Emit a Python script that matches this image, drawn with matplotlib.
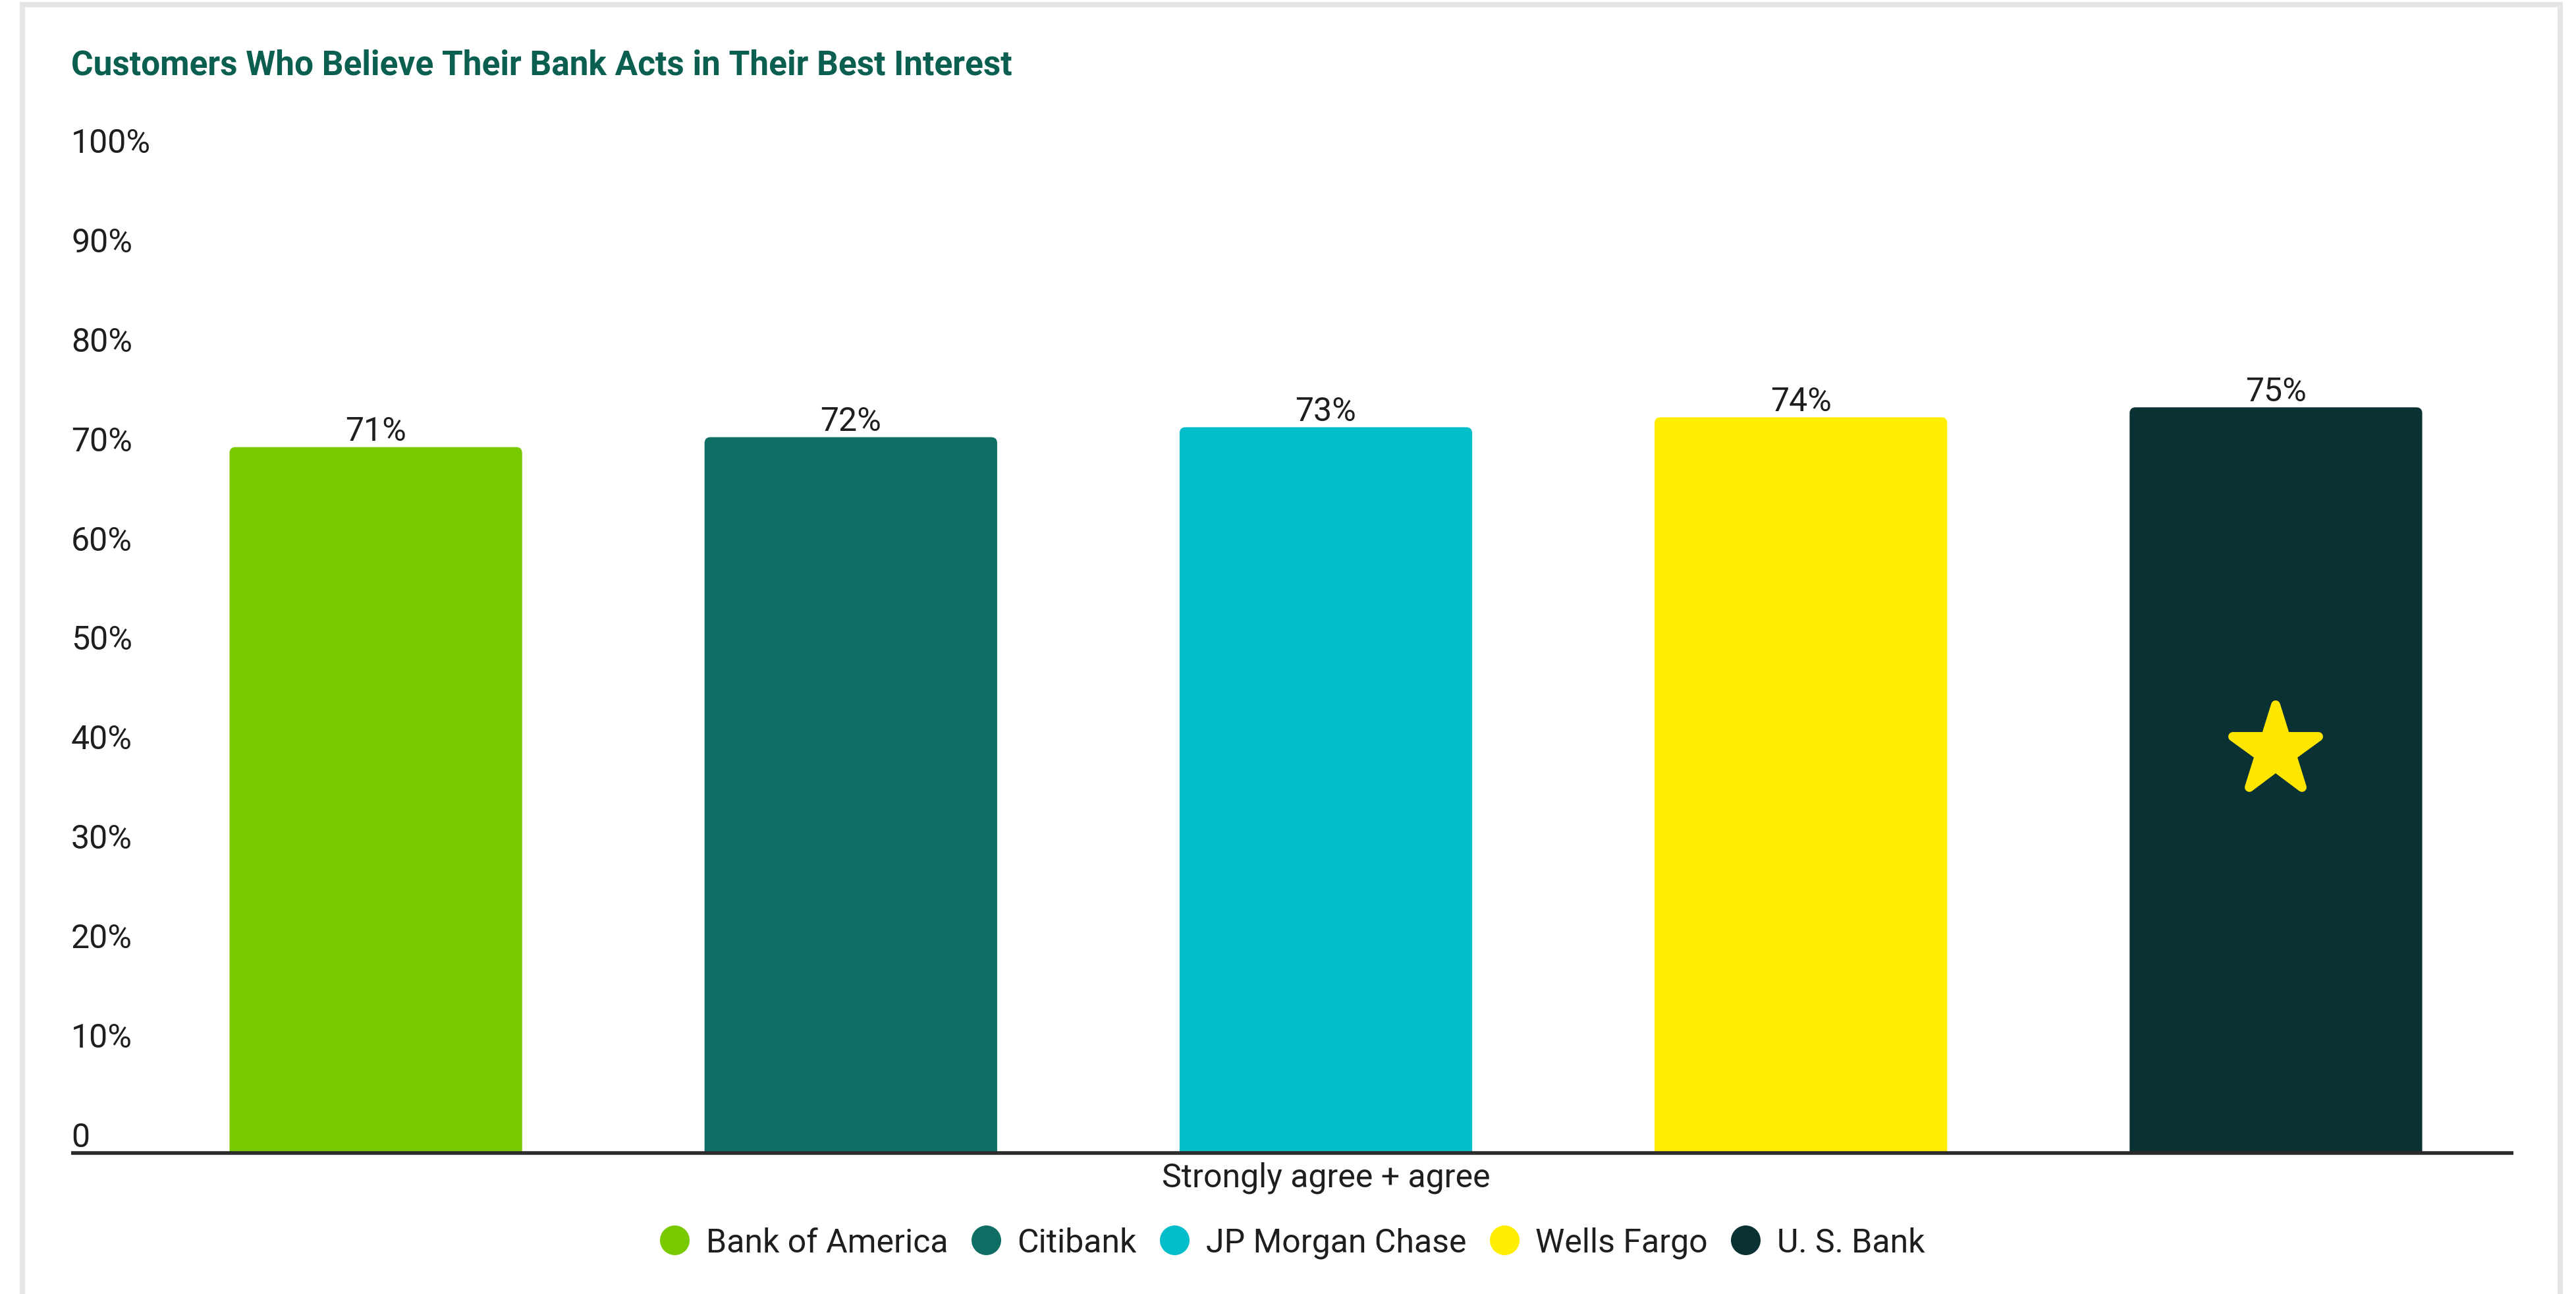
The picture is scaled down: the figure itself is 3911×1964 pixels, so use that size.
import matplotlib
matplotlib.use("Agg")
import matplotlib.pyplot as plt
from matplotlib.lines import Line2D
from matplotlib.markers import MarkerStyle
from matplotlib.patches import FancyBboxPatch, Rectangle

# data
banks = ["Bank of America", "Citibank", "JP Morgan Chase", "Wells Fargo", "U. S. Bank"]
values = [71, 72, 73, 74, 75]
colors = ["#79c900", "#0e6e64", "#04bdcb", "#ffee00", "#0a3235"]
group_label = "Strongly agree + agree"
y_ticks = [0, 10, 20, 30, 40, 50, 60, 70, 80, 90, 100]
y_tick_labels = ["0"] + [f"{t}%" for t in y_ticks[1:]]
star_bank = 4
star_value = 40.5

plt.rcParams["font.family"] = ["Roboto", "DejaVu Sans"]
text_color = "#1e1e1e"

W, H = 3911, 1965
fig = plt.figure(figsize=(W / 100, H / 100), dpi=100)
fig.patch.set_facecolor("white")

# light grey frame round the card
fig.add_artist(Rectangle((34 / W, -0.05), (3887 - 34) / W, 1.05 - 8 / H,
                         transform=fig.transFigure, fill=False,
                         edgecolor="#e5e5e5", linewidth=5.8))

ax = fig.add_axes([210 / W, 214 / H, 3606 / W, 1509 / H])
ax.set_xlim(-0.5, 4.5)
ax.set_ylim(0, 100)

x = list(range(len(banks)))
bars = ax.bar(x, values, width=0.616, color=colors, zorder=2)
ax.bar_label(bars, labels=[f"{v}%" for v in values], padding=0.5,
             fontsize=36, color=text_color)

# swap plain bars for ones with slightly rounded corners
p0 = ax.transData.transform((0, 0))
p1 = ax.transData.transform((1, 1))
r_px = 9
rx = r_px / (p1[0] - p0[0])
aspect = (p1[0] - p0[0]) / (p1[1] - p0[1])
for b in bars:
    ry = rx * aspect
    fb = FancyBboxPatch((b.get_x(), -ry), b.get_width(), b.get_height() + ry,
                        boxstyle=f"round,pad=0,rounding_size={rx}",
                        mutation_aspect=aspect, facecolor=b.get_facecolor(),
                        edgecolor="none", zorder=2)
    ax.add_patch(fb)
    b.set_visible(False)

# star on the highlighted bank
star = MarkerStyle("*", joinstyle="round")
ax.plot(x[star_bank], star_value, marker=star, markersize=99, color="#ffe600",
        markeredgecolor="#ffe600", markeredgewidth=10, zorder=3)

# baseline running under the tick labels
ax.plot([-0.0283, 1], [0, 0], transform=ax.get_yaxis_transform(),
        color="#2b2b2b", linewidth=4, clip_on=False, zorder=4,
        solid_capstyle="butt")

for s in ax.spines.values():
    s.set_visible(False)

ax.set_yticks(y_ticks, labels=y_tick_labels)
ax.tick_params(axis="y", length=0, pad=73.4, labelsize=36, labelcolor=text_color)
for lab in ax.get_yticklabels():
    lab.set_ha("left")
    lab.set_va("bottom")

ax.set_xticks([2], labels=[group_label])
ax.tick_params(axis="x", length=0, pad=9, labelsize=36, labelcolor=text_color)

fig.text(108 / W, 1 - 113 / H, "Customers Who Believe Their Bank Acts in Their Best Interest",
         fontsize=37, fontweight="bold", color="#0a5f50", ha="left", va="baseline")

handles = [Line2D([], [], linestyle="none", marker="o", markersize=32.4,
                  markerfacecolor=c, markeredgecolor="none") for c in colors]
fig.legend(handles, banks, loc="center", bbox_to_anchor=(1962 / W, 1 - 1887 / H),
           ncol=5, frameon=False, fontsize=36, labelcolor=text_color,
           handlelength=0.9, handletextpad=0.5, columnspacing=0.7)

fig.savefig("out.png", dpi=100)
